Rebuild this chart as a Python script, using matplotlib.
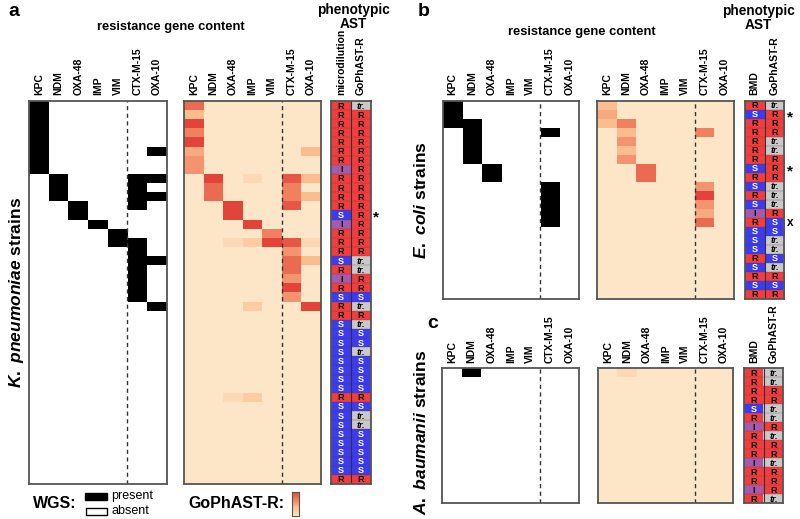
import numpy as np
import matplotlib
matplotlib.use("Agg")
import matplotlib.pyplot as plt
from matplotlib.colors import LinearSegmentedColormap, ListedColormap
from matplotlib.patches import Rectangle

plt.rcParams['font.family'] = ['Liberation Sans', 'DejaVu Sans']
plt.rcParams['mathtext.fontset'] = 'custom'
plt.rcParams['mathtext.it'] = 'Liberation Sans:bold:italic'
plt.rcParams['mathtext.rm'] = 'Liberation Sans:bold'

# ---- data ----
genes = ['KPC', 'NDM', 'OXA-48', 'IMP', 'VIM', 'CTX-M-15', 'OXA-10']
ast_labels_a = ['microdilution', 'GoPhAST-R']
ast_labels_bc = ['BMD', 'GoPhAST-R']

# WGS presence (1 = gene present), one string per strain, genes in order above
kp_wgs = ["1000000", "1000000", "1000000", "1000000", "1000000", "1000001",
          "1000000", "1000000", "0100011", "0100010", "0100011", "0010010",
          "0010000", "0001000", "0000100", "0000110", "0000010", "0000011",
          "0000010", "0000010", "0000010", "0000010", "0000001"] + ["0000000"] * 19
# GoPhAST-R signal, 0-9 scale
kp_gop = ["7000000", "3000000", "9000000", "6000000", "9000000", "4000003",
          "5000000", "5000000", "0901083", "0700060", "0700063", "0090080",
          "0090000", "0009000", "0000600", "0012981", "0000050", "0000073",
          "0000070", "0000050", "0000090", "0000050", "0002009"] + ["0000000"] * 9 \
         + ["0012000"] + ["0000000"] * 9
kp_bmd = "RRRRRRRIRRRRSIRRRSRIRSRRSSSSSSSSRSSSSSSSSR"
kp_gast = "TRRRRRRRRRRRRRRRRTTRRSTRTSSTSSSSRSTTSSSSSR"

ec_wgs = ["1000000", "1000000", "1100000", "0100010", "0100000", "0100000",
          "0100000", "0010000", "0010000", "0000010", "0000010", "0000010",
          "0000010", "0000010"] + ["0000000"] * 8
ec_gop = ["3000000", "4000000", "3600000", "0300060", "0500000", "0300000",
          "0500000", "0070000", "0070000", "0000050", "0000090", "0000050",
          "0000040", "0000070"] + ["0000000"] * 8
ec_bmd = "RSRRRRRSRSRSIRSSSRSRSR"
ec_gast = "TRRRTTRRRTTTRSSTTSTRSR"

ab_wgs = ["0100000"] + ["0000000"] * 14
ab_gop = ["0100000"] + ["0000000"] * 14
ab_bmd = "RRRRSRIRRRIRRIR"
ab_gast = "TTRRTTRTRRTRRRT"

# ---- figure ----
W, H = 800, 519
fig = plt.figure(figsize=(8, 5.19), dpi=100)


def box(x0, y0, x1, y1):
    return fig.add_axes([x0 / W, 1 - y1 / H, (x1 - x0) / W, (y1 - y0) / H])


heat_cmap = LinearSegmentedColormap.from_list(
    'gop', [(0, '#fde6c8'), (0.35, '#fcbb8c'), (0.7, '#ef7a5a'), (1, '#e2443a')])
ast_codes = {'R': 0, 'S': 1, 'I': 2, 'T': 3}
ast_cmap = ListedColormap(['#f23d3d', '#3b3bef', '#a45aae', '#c9c9c9'])


def matrix(rows):
    return np.array([[int(c) for c in r] for r in rows], dtype=float)


def style_axes(ax, labels, dashed=True):
    if dashed:
        ax.axvline(4.5, color='#333333', ls=(0, (3, 2.5)), lw=1)
    ax.set_xticks(range(len(labels)))
    ax.set_xticklabels(labels, rotation=90, fontsize=7.5, fontweight='bold')
    ax.xaxis.tick_top()
    ax.tick_params(length=0, pad=4)
    ax.set_yticks([])
    for s in ax.spines.values():
        s.set_color('#555555')
        s.set_linewidth(1.3)


def draw_wgs(ax, rows):
    ax.imshow(matrix(rows), cmap=ListedColormap(['white', 'black']), vmin=0, vmax=1,
              aspect='auto', interpolation='nearest')
    style_axes(ax, genes)


def draw_gop(ax, rows):
    ax.imshow(matrix(rows) / 9, cmap=heat_cmap, vmin=0, vmax=1,
              aspect='auto', interpolation='nearest')
    style_axes(ax, genes)


def draw_ast(ax, bmd, gast, labels):
    m = np.array([[ast_codes[a], ast_codes[b]] for a, b in zip(bmd, gast)])
    ax.imshow(m, cmap=ast_cmap, vmin=-0.5, vmax=3.5, aspect='auto', interpolation='nearest')
    n = len(bmd)
    ax.hlines(np.arange(n - 1) + 0.5, -0.5, 1.5, color='#7a2a3a', lw=0.35, alpha=0.6)
    ax.axvline(0.5, color='#333333', lw=0.8)
    for i in range(n):
        for j, c in enumerate((bmd[i], gast[i])):
            ax.text(j, i + 0.05, 'tr.' if c == 'T' else c, ha='center', va='center',
                    fontsize=6.6, fontweight='bold',
                    style='italic' if c == 'T' else 'normal',
                    color='white' if c == 'S' else 'black')
    style_axes(ax, labels, dashed=False)


# panel a
draw_wgs(box(29.3, 101, 166.7, 484), kp_wgs)
draw_gop(box(184, 101, 320.7, 484), kp_gop)
ax_a = box(331.3, 101, 370.7, 484)
draw_ast(ax_a, kp_bmd, kp_gast, ast_labels_a)
ax_a.text(1.62, 12.3, '*', fontsize=11, fontweight='bold', ha='left', va='center', clip_on=False)

# panel b
nb = len(ec_bmd)
yb = 101 + 9 * nb
draw_wgs(box(442.7, 101, 579, yb), ec_wgs)
draw_gop(box(597.3, 101, 734, yb), ec_gop)
ax_b = box(744.7, 101, 784.3, yb)
draw_ast(ax_b, ec_bmd, ec_gast, ast_labels_bc)
for r, mk in [(1, '*'), (7, '*'), (13, 'x')]:
    ax_b.text(1.65, r + (0.3 if mk == '*' else 0), mk, fontsize=11 if mk == '*' else 8.5,
              fontweight='bold', ha='left', va='center', clip_on=False)

# panel c
nc = len(ab_bmd)
yc = 368.3 + 9 * nc
draw_wgs(box(442.3, 368.3, 579.3, yc), ab_wgs)
draw_gop(box(598.3, 368.3, 733.3, yc), ab_gop)
draw_ast(box(744.3, 368.3, 783.3, yc), ab_bmd, ab_gast, ast_labels_bc)


def ftext(x, y, s, **kw):
    fig.text(x / W, 1 - y / H, s, **kw)


ftext(8, 12, 'a', fontsize=14, fontweight='bold', va='center')
ftext(418, 12, 'b', fontsize=14, fontweight='bold', va='center')
ftext(427, 323, 'c', fontsize=14, fontweight='bold', va='center')
ftext(171, 27, 'resistance gene content', fontsize=9.3, fontweight='bold', ha='center', va='center')
ftext(582, 32, 'resistance gene content', fontsize=9.3, fontweight='bold', ha='center', va='center')
ftext(353, 17, 'phenotypic\nAST', fontsize=9.8, fontweight='bold', ha='center', va='center',
      linespacing=1.0)
ftext(758, 18, 'phenotypic\nAST', fontsize=9.8, fontweight='bold', ha='center', va='center',
      linespacing=1.0)
ftext(17, 292, r'$K.\ pneumoniae$ strains', fontsize=12.5, fontweight='bold', rotation=90,
      ha='center', va='center')
ftext(421, 200, r'$E.\ coli$ strains', fontsize=12.5, fontweight='bold', rotation=90,
      ha='center', va='center')
ftext(421, 432, r'$A.\ baumanii$ strains', fontsize=12.5, fontweight='bold', rotation=90,
      ha='center', va='center')

# legend
ftext(33, 503, 'WGS:', fontsize=11.5, fontweight='bold', va='center')
fig.patches.append(Rectangle((85 / W, 1 - 500 / H), 22 / W, 7.5 / H, transform=fig.transFigure,
                             facecolor='black', edgecolor='black', lw=1))
fig.patches.append(Rectangle((86 / W, 1 - 515 / H), 21 / W, 7.5 / H, transform=fig.transFigure,
                             facecolor='white', edgecolor='black', lw=1))
ftext(111, 496, 'present', fontsize=9, va='center')
ftext(111, 511, 'absent', fontsize=9, va='center')
ftext(188, 503, 'GoPhAST-R:', fontsize=11.5, fontweight='bold', va='center')
cax = box(291.7, 491.7, 299.3, 516)
cax.imshow(np.linspace(1, 0, 50)[:, None], cmap=heat_cmap, aspect='auto')
cax.set_xticks([])
cax.set_yticks([])
for s in cax.spines.values():
    s.set_color('#555555')

fig.savefig('out.png', dpi=100)
